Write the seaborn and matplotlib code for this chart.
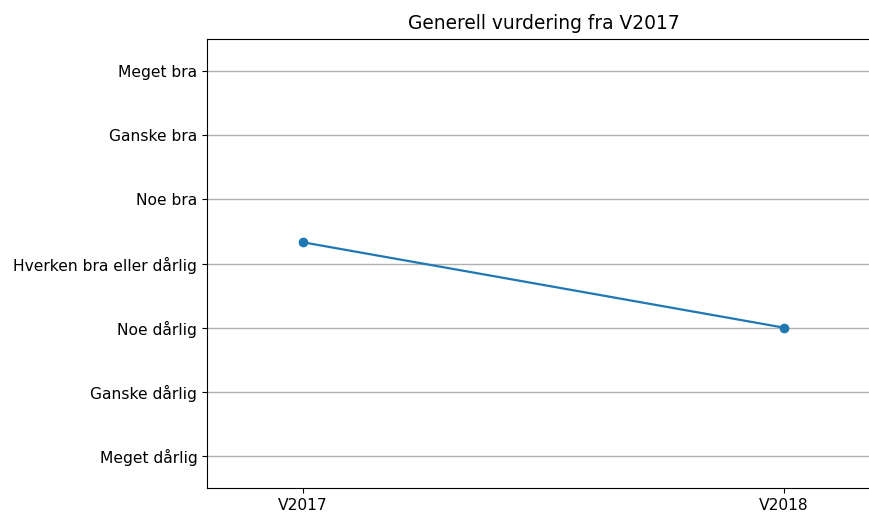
import matplotlib
matplotlib.use('Agg')
import matplotlib.pyplot as plt
import seaborn as sns
import pandas as pd

# Semesters and mean rating (1 = Meget dårlig ... 7 = Meget bra)
semesters = ['V2017', 'V2018']
ratings = [4.33, 3.0]
scale_labels = ['Meget dårlig', 'Ganske dårlig', 'Noe dårlig', 'Hverken bra eller dårlig',
                'Noe bra', 'Ganske bra', 'Meget bra']

df = pd.DataFrame({'semester': [0, 1], 'rating': ratings})

fig = plt.figure(figsize=(8.7, 5.14), dpi=100)
# axes runs slightly past the right edge of the canvas, as in the original crop
ax = fig.add_axes([207 / 870, 1 - 488 / 514, 673 / 870, 449 / 514])

sns.lineplot(data=df, x='semester', y='rating', marker='o', color='#1f77b4',
             markersize=7, markeredgewidth=0, linewidth=1.6, ax=ax)

ax.set_xticks([0, 1])
ax.set_xticklabels(semesters, fontsize=11.2)
ax.set_yticks(range(1, 8))
ax.set_yticklabels(scale_labels, fontsize=11.2)
ax.set_xlim(-0.2, 1.2)
ax.set_ylim(0.5, 7.5)
ax.yaxis.grid(True, color='#b0b0b0', linewidth=1)
ax.set_axisbelow(True)
ax.set_xlabel('')
ax.set_ylabel('')
ax.set_title('Generell vurdering fra V2017', fontsize=13.4, pad=7)

plt.savefig('out.png', dpi=100)
